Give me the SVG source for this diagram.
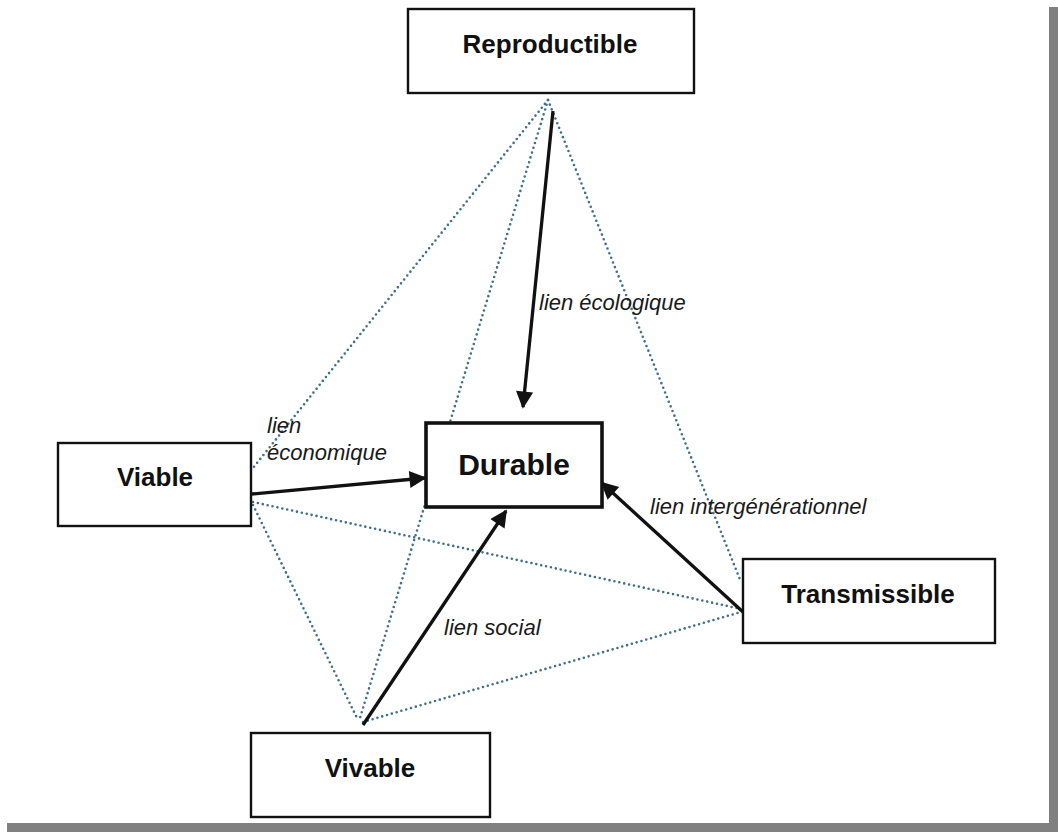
<svg xmlns="http://www.w3.org/2000/svg" width="1058" height="832" viewBox="0 0 1058 832">
<defs>
<style>
.box{fill:#fff;stroke:#111;stroke-width:2.4}
.main{fill:#fff;stroke:#111;stroke-width:3.6}
.nt{font-family:"Liberation Sans",Arial,sans-serif;font-weight:bold;font-size:26px;fill:#111;text-anchor:middle}
.big{font-size:30px}
.lbl{font-family:"Liberation Sans",Arial,sans-serif;font-style:italic;font-size:22px;fill:#1a1a1a}
.dot{fill:none;stroke:#3f7089;stroke-width:2.6;stroke-linecap:round;stroke-dasharray:0 5}
.arr{fill:none;stroke:#111;stroke-width:3.3;marker-end:url(#ah)}
</style>
<marker id="ah" viewBox="0 0 10 10" refX="9" refY="5" markerWidth="6" markerHeight="5.2" markerUnits="strokeWidth" orient="auto">
<path d="M0,0 L10,5 L0,10 z" fill="#111"/>
</marker>
</defs>
<rect x="0" y="0" width="1058" height="832" fill="#fff"/>
<rect x="1049" y="7" width="9" height="825" fill="#808080"/>
<rect x="7" y="823" width="1051" height="9" fill="#808080"/>

<g id="connectors">
<line class="dot" x1="548" y1="100" x2="253" y2="468"/>
<line class="dot" x1="548" y1="100" x2="360" y2="718"/>
<line class="dot" x1="548" y1="100" x2="741" y2="582"/>
<line class="dot" x1="253" y1="502" x2="741" y2="609"/>
<line class="dot" x1="253" y1="505" x2="358" y2="720"/>
<line class="dot" x1="363" y1="722" x2="741" y2="612"/>
<line class="arr" x1="553" y1="111" x2="523" y2="407"/>
<line class="arr" x1="252" y1="494" x2="425" y2="478"/>
<line class="arr" x1="363" y1="725" x2="506" y2="511"/>
<line class="arr" x1="743" y1="612" x2="602" y2="483"/>
<text class="lbl" x="539" y="310">lien écologique</text>
<text class="lbl" x="267" y="433">lien</text>
<text class="lbl" x="267" y="460">économique</text>
<text class="lbl" x="650" y="514">lien intergénérationnel</text>
<text class="lbl" x="444" y="635">lien social</text>
</g>

<g id="reproductible">
<rect class="box" x="408" y="9" width="286" height="84"/>
<text class="nt" x="550" y="53">Reproductible</text>
</g>
<g id="durable">
<rect class="main" x="426" y="423" width="176" height="84"/>
<text class="nt big" x="514" y="475">Durable</text>
</g>
<g id="viable">
<rect class="box" x="58" y="443" width="193" height="83"/>
<text class="nt" x="155" y="486">Viable</text>
</g>
<g id="transmissible">
<rect class="box" x="743" y="559" width="252" height="84"/>
<text class="nt" x="868" y="603">Transmissible</text>
</g>
<g id="vivable">
<rect class="box" x="251" y="733" width="239" height="84"/>
<text class="nt" x="370" y="777">Vivable</text>
</g>
</svg>
